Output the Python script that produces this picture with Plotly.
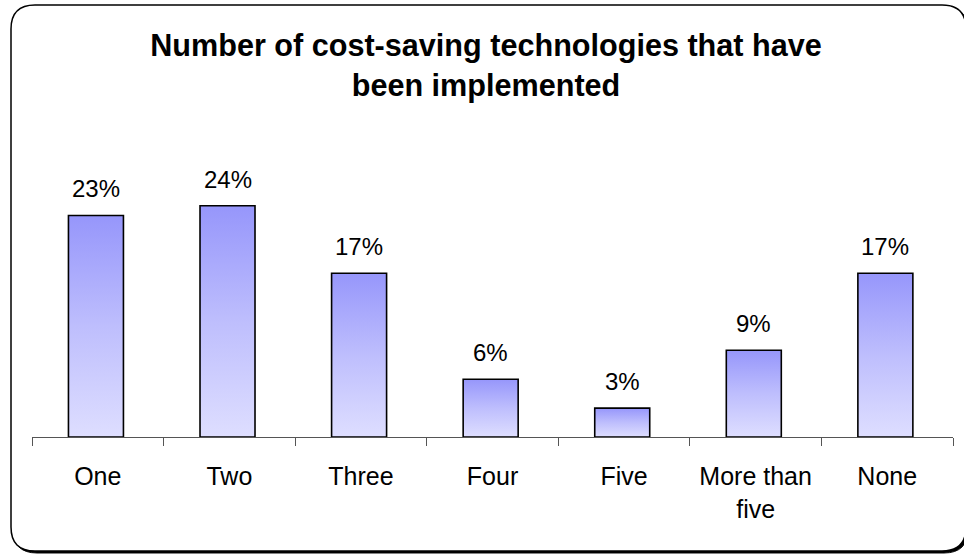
import plotly.graph_objects as go

# Survey results: number of cost-saving technologies implemented
categories = ["One", "Two", "Three", "Four", "Five", "More than<br>five", "None"]
shares = [23, 24, 17, 6, 3, 9, 17]
value_labels = ["23%", "24%", "17%", "6%", "3%", "9%", "17%"]

W, H = 964, 556
M_L, M_R, M_T, M_B = 32, 11, 148, 119
Y_MAX = 30
BAR_HALF = 0.209
BAR_SHIFT = -0.014
FONT = "Liberation Sans, Arial, sans-serif"

plot_w = W - M_L - M_R
plot_h = H - M_T - M_B


def to_paper(px, py):
    return (px - M_L) / plot_w, (H - M_B - py) / plot_h


def rounded_rect(x0, y0, x1, y1, r):
    def p(x, y):
        a, b = to_paper(x, y)
        return f"{a:.5f},{b:.5f}"
    return (
        f"M {p(x0 + r, y0)} L {p(x1 - r, y0)} Q {p(x1, y0)} {p(x1, y0 + r)} "
        f"L {p(x1, y1 - r)} Q {p(x1, y1)} {p(x1 - r, y1)} "
        f"L {p(x0 + r, y1)} Q {p(x0, y1)} {p(x0, y1 - r)} "
        f"L {p(x0, y0 + r)} Q {p(x0, y0)} {p(x0 + r, y0)} Z"
    )


fig = go.Figure()

# Bars drawn as filled outlines so each one gets its own vertical gradient
for i, v in enumerate(shares):
    c = i + BAR_SHIFT
    fig.add_trace(go.Scatter(
        x=[c - BAR_HALF, c - BAR_HALF, c + BAR_HALF, c + BAR_HALF, c - BAR_HALF],
        y=[0, v, v, 0, 0],
        mode="lines",
        fill="toself",
        fillgradient=dict(
            type="vertical",
            colorscale=[[0, "#dedeff"], [0.5, "#bebefd"], [1, "#9696fb"]],
        ),
        line=dict(color="black", width=1.6),
        hoverinfo="skip",
        showlegend=False,
    ))

# Value labels above each bar
for i, (v, t) in enumerate(zip(shares, value_labels)):
    fig.add_annotation(
        x=i + BAR_SHIFT, y=v, text=t, showarrow=False,
        yanchor="bottom", yshift=11,
        font=dict(family=FONT, size=24, color="black"),
    )

# Card outline with a drop shadow
shapes = [
    dict(type="path", xref="paper", yref="paper", layer="below",
         path=rounded_rect(13, 7, 968, 553, 24),
         fillcolor="black", line=dict(color="black", width=1)),
    dict(type="path", xref="paper", yref="paper", layer="below",
         path=rounded_rect(11, 5, 966, 551, 24),
         fillcolor="white", line=dict(color="black", width=1.5)),
]

fig.update_layout(
    width=W, height=H,
    margin=dict(l=M_L, r=M_R, t=M_T, b=M_B, autoexpand=False),
    paper_bgcolor="white",
    plot_bgcolor="rgba(0,0,0,0)",
    shapes=shapes,
    title=dict(
        text="Number of cost-saving technologies that have<br>been implemented",
        x=486 / W, xref="container", xanchor="center",
        y=1 - 56 / H, yref="container", yanchor="top",
        font=dict(family=FONT, size=30.6, color="black", weight="bold"),
    ),
    xaxis=dict(
        range=[-0.5, len(categories) - 0.5],
        tickmode="array",
        tickvals=list(range(len(categories))),
        ticktext=categories,
        ticks="outside", ticklen=17, tickcolor="rgba(0,0,0,0)",
        tickfont=dict(family=FONT, size=25, color="black"),
        minor=dict(ticks="outside", ticklen=8, tickcolor="#555555",
                   tickmode="linear", tick0=-0.5, dtick=1, showgrid=False),
        showline=True, linecolor="#555555", linewidth=1,
        showgrid=False, zeroline=False, fixedrange=True,
    ),
    yaxis=dict(
        range=[0, Y_MAX], visible=False, showgrid=False,
        zeroline=False, fixedrange=True,
    ),
)

fig.write_html("out.html")
